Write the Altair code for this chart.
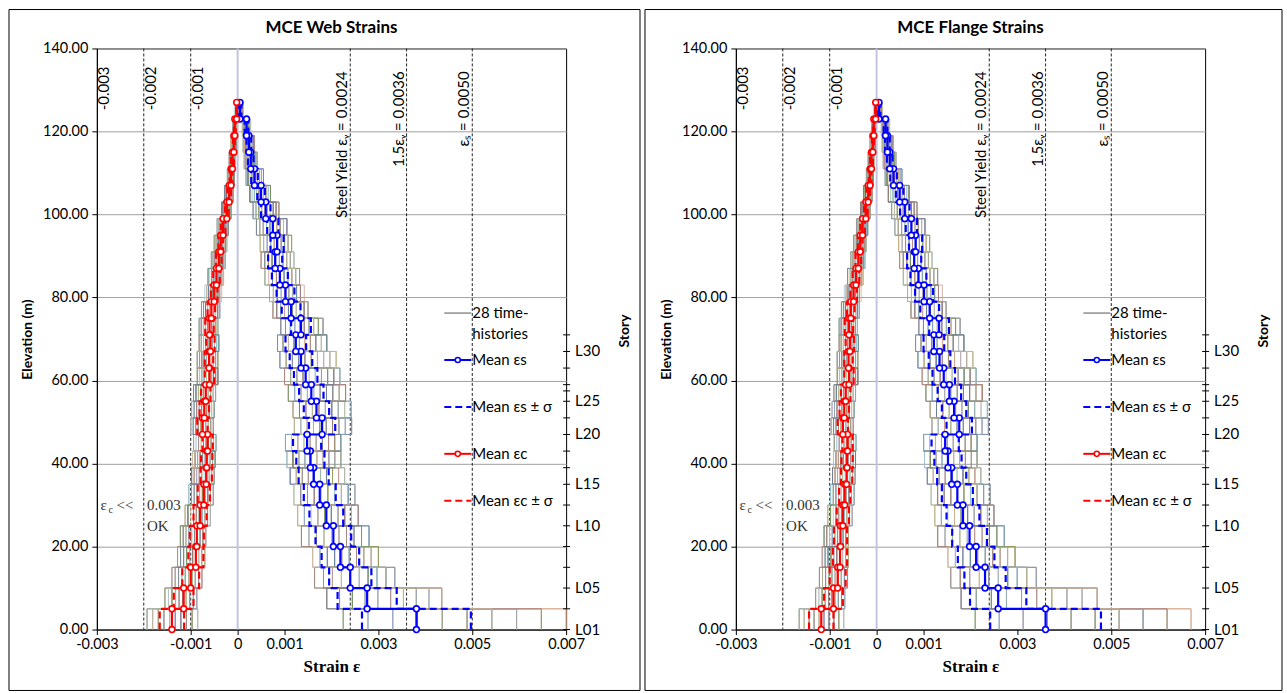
import altair as alt
import pandas as pd

# ---------------- data ----------------
LEVELS = [0, 5, 10, 15, 20, 25, 30, 35, 39, 43, 47, 51, 55, 59, 63, 67, 71,
          75, 79, 83, 87, 91, 95, 99, 103, 107, 111, 115, 119, 123, 127]

# Web wall strains (per element, bottom to top)
WEB_TENS_MEAN = [0.00381, 0.00276, 0.00240, 0.00219, 0.00204, 0.00189, 0.00175, 0.00162, 0.00155, 0.00148,
                 0.00180, 0.00168, 0.00157, 0.00145, 0.00135, 0.00124, 0.00135, 0.00114, 0.00102, 0.00090,
                 0.00080, 0.00084, 0.00075, 0.00060, 0.00050, 0.00036, 0.00028, 0.00024, 0.00019, 0.00005]
WEB_TENS_MINUS_SD = [0.00265, 0.00213, 0.00195, 0.00179, 0.00166, 0.00153, 0.00141, 0.00130, 0.00125, 0.00118,
                     0.00152, 0.00141, 0.00131, 0.00120, 0.00111, 0.00102, 0.00114, 0.00094, 0.00083, 0.00073,
                     0.00065, 0.00070, 0.00063, 0.00050, 0.00042, 0.00029, 0.00022, 0.00019, 0.00015, 0.00002]
WEB_TENS_PLUS_SD = [0.00497, 0.00339, 0.00285, 0.00259, 0.00242, 0.00225, 0.00209, 0.00194, 0.00185, 0.00178,
                    0.00208, 0.00195, 0.00183, 0.00170, 0.00159, 0.00146, 0.00156, 0.00134, 0.00121, 0.00107,
                    0.00095, 0.00098, 0.00087, 0.00070, 0.00058, 0.00043, 0.00034, 0.00029, 0.00023, 0.00008]
WEB_TENS_MIN = [0.00225, 0.00190, 0.00164, 0.00160, 0.00136, 0.00128, 0.00120, 0.00112, 0.00105, 0.00102,
                0.00121, 0.00118, 0.00108, 0.00100, 0.00090, 0.00085, 0.00092, 0.00075, 0.00068, 0.00058,
                0.00050, 0.00048, 0.00040, 0.00033, 0.00026, 0.00018, 0.00014, 0.00012, 0.00010, 0.00000]
WEB_TENS_MAX = [0.00700, 0.00435, 0.00335, 0.00300, 0.00280, 0.00257, 0.00250, 0.00228, 0.00220, 0.00220,
                0.00243, 0.00242, 0.00230, 0.00218, 0.00210, 0.00190, 0.00182, 0.00150, 0.00142, 0.00132,
                0.00120, 0.00115, 0.00105, 0.00088, 0.00070, 0.00055, 0.00042, 0.00036, 0.00028, 0.00012]
WEB_COMP_MEAN = [-0.00140, -0.00115, -0.00100, -0.00089, -0.00087, -0.00080, -0.00072, -0.00067, -0.00066, -0.00064,
                 -0.00075, -0.00071, -0.00068, -0.00060, -0.00061, -0.00058, -0.00060, -0.00056, -0.00050, -0.00045,
                 -0.00040, -0.00036, -0.00031, -0.00023, -0.00018, -0.00014, -0.00011, -0.00008, -0.00006, -0.00002]
WEB_COMP_MINUS_SD = [-0.00166, -0.00136, -0.00118, -0.00105, -0.00102, -0.00094, -0.00085, -0.00079, -0.00078, -0.00075,
                     -0.00086, -0.00081, -0.00078, -0.00070, -0.00070, -0.00067, -0.00069, -0.00064, -0.00057, -0.00052,
                     -0.00046, -0.00041, -0.00036, -0.00027, -0.00022, -0.00017, -0.00014, -0.00010, -0.00008, -0.00003]
WEB_COMP_PLUS_SD = [-0.00114, -0.00094, -0.00082, -0.00073, -0.00072, -0.00066, -0.00059, -0.00055, -0.00054, -0.00053,
                    -0.00064, -0.00061, -0.00058, -0.00050, -0.00052, -0.00049, -0.00051, -0.00048, -0.00043, -0.00038,
                    -0.00034, -0.00031, -0.00026, -0.00019, -0.00014, -0.00011, -0.00008, -0.00006, -0.00004, -0.00001]
WEB_COMP_MIN = [-0.00193, -0.00155, -0.00140, -0.00128, -0.00122, -0.00112, -0.00104, -0.00098, -0.00096, -0.00094,
                -0.00100, -0.00098, -0.00094, -0.00086, -0.00086, -0.00082, -0.00082, -0.00077, -0.00070, -0.00063,
                -0.00056, -0.00050, -0.00044, -0.00034, -0.00028, -0.00022, -0.00018, -0.00014, -0.00010, -0.00005]
WEB_COMP_MAX = [-0.00085, -0.00087, -0.00076, -0.00070, -0.00068, -0.00058, -0.00052, -0.00050, -0.00048, -0.00046,
                -0.00052, -0.00050, -0.00047, -0.00042, -0.00042, -0.00040, -0.00042, -0.00038, -0.00034, -0.00030,
                -0.00026, -0.00023, -0.00020, -0.00014, -0.00010, -0.00007, -0.00005, -0.00003, -0.00002, 0.00000]

# Flange strains
FLG_TENS_MEAN = [0.00360, 0.00259, 0.00231, 0.00212, 0.00198, 0.00184, 0.00172, 0.00160, 0.00152, 0.00146,
                 0.00176, 0.00165, 0.00155, 0.00143, 0.00134, 0.00122, 0.00133, 0.00113, 0.00101, 0.00089,
                 0.00080, 0.00083, 0.00074, 0.00060, 0.00049, 0.00036, 0.00028, 0.00023, 0.00019, 0.00005]
FLG_TENS_MINUS_SD = [0.00242, 0.00199, 0.00187, 0.00173, 0.00161, 0.00149, 0.00139, 0.00129, 0.00123, 0.00117,
                     0.00149, 0.00139, 0.00130, 0.00119, 0.00111, 0.00100, 0.00112, 0.00093, 0.00082, 0.00072,
                     0.00065, 0.00069, 0.00062, 0.00050, 0.00041, 0.00029, 0.00022, 0.00018, 0.00015, 0.00002]
FLG_TENS_PLUS_SD = [0.00478, 0.00319, 0.00275, 0.00251, 0.00235, 0.00219, 0.00205, 0.00191, 0.00181, 0.00175,
                    0.00203, 0.00191, 0.00180, 0.00167, 0.00157, 0.00144, 0.00154, 0.00133, 0.00120, 0.00106,
                    0.00095, 0.00097, 0.00086, 0.00070, 0.00057, 0.00043, 0.00034, 0.00028, 0.00023, 0.00008]
FLG_TENS_MIN = [0.00210, 0.00180, 0.00158, 0.00152, 0.00130, 0.00124, 0.00116, 0.00108, 0.00102, 0.00100,
                0.00118, 0.00114, 0.00105, 0.00097, 0.00088, 0.00083, 0.00090, 0.00073, 0.00066, 0.00057,
                0.00049, 0.00047, 0.00039, 0.00032, 0.00025, 0.00018, 0.00014, 0.00012, 0.00010, 0.00000]
FLG_TENS_MAX = [0.00670, 0.00470, 0.00340, 0.00295, 0.00272, 0.00250, 0.00242, 0.00222, 0.00214, 0.00214,
                0.00238, 0.00236, 0.00225, 0.00212, 0.00205, 0.00186, 0.00178, 0.00148, 0.00140, 0.00130,
                0.00118, 0.00113, 0.00103, 0.00086, 0.00069, 0.00054, 0.00041, 0.00035, 0.00028, 0.00012]
FLG_COMP_MEAN = [-0.00118, -0.00092, -0.00083, -0.00078, -0.00077, -0.00072, -0.00068, -0.00064, -0.00063, -0.00062,
                 -0.00072, -0.00069, -0.00066, -0.00059, -0.00060, -0.00057, -0.00059, -0.00055, -0.00049, -0.00044,
                 -0.00039, -0.00035, -0.00030, -0.00023, -0.00018, -0.00014, -0.00011, -0.00008, -0.00006, -0.00002]
FLG_COMP_MINUS_SD = [-0.00144, -0.00112, -0.00100, -0.00093, -0.00091, -0.00085, -0.00080, -0.00076, -0.00075, -0.00073,
                     -0.00083, -0.00079, -0.00076, -0.00069, -0.00069, -0.00066, -0.00068, -0.00063, -0.00056, -0.00051,
                     -0.00045, -0.00040, -0.00035, -0.00027, -0.00022, -0.00017, -0.00014, -0.00010, -0.00008, -0.00003]
FLG_COMP_PLUS_SD = [-0.00092, -0.00072, -0.00066, -0.00063, -0.00063, -0.00059, -0.00056, -0.00052, -0.00051, -0.00051,
                    -0.00061, -0.00059, -0.00056, -0.00049, -0.00051, -0.00048, -0.00050, -0.00047, -0.00042, -0.00037,
                    -0.00033, -0.00030, -0.00025, -0.00019, -0.00014, -0.00011, -0.00008, -0.00006, -0.00004, -0.00001]
FLG_COMP_MIN = [-0.00165, -0.00130, -0.00122, -0.00116, -0.00112, -0.00104, -0.00098, -0.00094, -0.00092, -0.00090,
                -0.00097, -0.00095, -0.00091, -0.00084, -0.00084, -0.00080, -0.00080, -0.00075, -0.00069, -0.00062,
                -0.00055, -0.00049, -0.00043, -0.00034, -0.00028, -0.00022, -0.00018, -0.00014, -0.00010, -0.00005]
FLG_COMP_MAX = [-0.00070, -0.00068, -0.00062, -0.00060, -0.00060, -0.00052, -0.00048, -0.00046, -0.00045, -0.00044,
                -0.00050, -0.00048, -0.00045, -0.00040, -0.00040, -0.00039, -0.00041, -0.00037, -0.00033, -0.00029,
                -0.00025, -0.00022, -0.00019, -0.00014, -0.00010, -0.00007, -0.00005, -0.00003, -0.00002, 0.00000]

# Where each of the 28 time-histories sits inside the band of all histories (0 = least, 9 = most), per element
HIST_PATTERN = [
    "538271946029183746507364819205", "261947385084726190351938475620",
    "740518293636592018475820937461", "094836275161938405279482756130",
    "417729360805863729143715069248", "826301549757309481626049182375",
    "359084617292481560732674930815", "682153709414073958268391047526",
    "135692840778650234194523819067", "973406128523517869400968273514",
    "408527931669234170587140592863", "561734092830895612741856734092",
    "294861307585167203496293481750", "726395841046720391853507916248",
    "057148623919453826709631205487", "831970564257982640132085473916",
    "645219783002368159475819630274", "318604257973614982054972318650",
    "902753186424806573910367549182", "179386402591572034687248093561",
    "463820519738249167508513762409", "590467321860935718242679015348",
    "237591864087190462356340287951", "784136095215327890649185634720",
    "026984571346071385293752918064", "851609234772904651830428751936",
    "304275168951683904721597406823", "698043712503459276187861523049",
]
HIST_COLORS = ["#7fb3d5", "#b39b7d", "#8b9bb0", "#c8ad6e", "#6f7f80", "#94c29c", "#c98f8f",
               "#5b6b7c", "#a8c8e0", "#d4b07e", "#808080", "#9fb87a", "#b89ac8", "#4f5f6f",
               "#8ecbd9", "#c2a068", "#999999", "#7c9e88", "#d0a090", "#6a88a8", "#b3b38c",
               "#a07c6c", "#88acc4", "#b8b8b8", "#7f9a5a", "#b08080", "#6a7a90", "#c8bc98"]

REF_LINES = [-0.002, -0.001, 0.0024, 0.0036, 0.005]
REF_LABELS_RIGHT = ["-0.003", "-0.002", "-0.001"]
REF_LABELS_RIGHT_X = [-0.003, -0.002, -0.001]
REF_LABELS_LEFT = ["Steel Yield εᵧ = 0.0024", "1.5εᵧ = 0.0036", "εₛ = 0.0050"]
REF_LABELS_LEFT_X = [0.0024, 0.0036, 0.005]

X_TICKS = [-0.003, -0.001, 0, 0.001, 0.003, 0.005, 0.007]
Y_TICKS = [0, 20, 40, 60, 80, 100, 120, 140]

STORY_TICKS = [0, 5, 10, 15, 20, 25, 30, 35, 39, 43, 47, 51, 55, 57.5, 59, 63, 67, 71]
STORY_LABELS = ["L01", "L05", "L10", "L15", "L20", "L25", "L30"]
STORY_LABEL_ELEV = [0, 10, 25, 35, 47, 55, 67]

LEGEND_LABELS = ["28 time-", "histories", "Mean εs", "Mean εs ± σ", "Mean εc", "Mean εc ± σ"]

NOTE_STRAIN = -0.00292
NOTE_LIMIT_STRAIN = -0.00193
NOTE_ELEV = [30, 25]

# ---------------- styling ----------------
FONT = "Lato"
SERIF = "Liberation Serif"
BLUE = "#0000ff"
RED = "#ff0000"
W, H = 470, 582

XS = alt.Scale(domain=[-0.003, 0.007], nice=False, zero=False)
YS = alt.Scale(domain=[0, 140], nice=False, zero=False)
X_AXIS = alt.Axis(values=X_TICKS,
                  labelExpr="datum.value == 0 ? '0' : (datum.value < 0 ? '-' + format(-datum.value, '.3f') : format(datum.value, '.3f'))",
                  title="Strain ε", titleFont=SERIF, titleFontSize=17, titleFontWeight="bold",
                  titleColor="black", titlePadding=8, labelFont=FONT, labelFontSize=14.5, labelColor="black",
                  grid=False, tickColor="black", domainColor="black", tickSize=5, labelPadding=3,
                  labelFlush=False, labelOverlap=False)
Y_AXIS = alt.Axis(values=Y_TICKS, format=".2f", title="Elevation (m)", titleFont=FONT, titleFontSize=14,
                  titleFontWeight="bold", titleColor="black", titlePadding=8, labelFont=FONT, labelFontSize=14.5,
                  labelColor="black", grid=True, gridColor="#a0a0a0", gridWidth=1, tickSize=5,
                  tickColor="black", domainColor="black", labelPadding=4, labelOverlap=False)

ONE = pd.DataFrame({"k": [0]})


def steps(values, series, hist=""):
    rows = []
    for e, v in enumerate(values):
        rows.append(dict(series=series, hist=hist, strain=v, elev=LEVELS[e], order=2 * e))
        rows.append(dict(series=series, hist=hist, strain=v, elev=LEVELS[e + 1], order=2 * e + 1))
    return rows


def histories(vmin, vmax, side, shift):
    rows = []
    n = len(HIST_PATTERN)
    for h in range(n):
        pat = HIST_PATTERN[(h + shift) % n]
        vals = [vmin[e] + (vmax[e] - vmin[e]) * int(pat[e % len(pat)]) / 9.0 for e in range(len(vmin))]
        rows += steps(vals, f"{side}{h:02d}", f"h{h:02d}")
    return rows


def txt(text, x, y, **kw):
    return alt.Chart(ONE).mark_text(text=text, **kw).encode(x=alt.value(x), y=alt.value(y))


def hrule(x1, x2, y, **kw):
    return alt.Chart(ONE).mark_rule(**kw).encode(x=alt.value(x1), x2=alt.value(x2), y=alt.value(y))


def panel(title, box, tm, tlo, thi, tmin, tmax, cm, clo, chi, cmin, cmax):
    X = alt.X("strain:Q", scale=XS, axis=X_AXIS)
    Y = alt.Y("elev:Q", scale=YS, axis=Y_AXIS)
    layers = []

    # panel frame and title
    layers.append(alt.Chart(ONE).mark_rect(fillOpacity=0, stroke="black", strokeWidth=1).encode(
        x=alt.value(box[0]), x2=alt.value(box[1]), y=alt.value(-39), y2=alt.value(643)))
    layers.append(txt(title, W / 2, -20, align="center", baseline="middle", font=FONT, fontSize=17,
                      fontWeight="bold", color="black"))

    layers.append(alt.Chart(pd.DataFrame({"strain": [0.0]})).mark_rule(
        color="#c4c4e2", strokeWidth=2).encode(x=X))
    layers.append(alt.Chart(pd.DataFrame({"strain": REF_LINES})).mark_rule(
        color="#222222", strokeWidth=1, strokeDash=[3, 2]).encode(x=X))

    hist_df = pd.DataFrame(histories(tmin, tmax, "t", 0) + histories(cmin, cmax, "c", 9))
    hist_domain = [f"h{h:02d}" for h in range(len(HIST_PATTERN))]
    layers.append(alt.Chart(hist_df).mark_line(strokeWidth=0.9, opacity=0.9).encode(
        x=X, y=Y, order="order:Q", detail="series:N",
        color=alt.Color("hist:N", scale=alt.Scale(domain=hist_domain, range=HIST_COLORS), legend=None)))

    for lo, hi, col in [(tlo, thi, BLUE), (clo, chi, RED)]:
        df = pd.DataFrame(steps(lo, "lo") + steps(hi, "hi"))
        layers.append(alt.Chart(df).mark_line(color=col, strokeWidth=2.2, strokeDash=[7, 4]).encode(
            x=X, y=Y, order="order:Q", detail="series:N"))
    for m, col in [(tm, BLUE), (cm, RED)]:
        df = pd.DataFrame(steps(m, "mean"))
        layers.append(alt.Chart(df).mark_line(
            color=col, strokeWidth=2.2,
            point=alt.OverlayMarkDef(filled=True, fill="white", stroke=col, strokeWidth=1.6, size=34)
        ).encode(x=X, y=Y, order="order:Q"))

    # reference line labels
    layers.append(alt.Chart(pd.DataFrame({"strain": REF_LABELS_RIGHT_X, "label": REF_LABELS_RIGHT}))
                  .mark_text(angle=270, align="right", baseline="top", dx=4, font=FONT, fontSize=15, color="black")
                  .encode(x=X, y=alt.value(22), text="label:N"))
    layers.append(alt.Chart(pd.DataFrame({"strain": REF_LABELS_LEFT_X, "label": REF_LABELS_LEFT}))
                  .mark_text(angle=270, align="right", baseline="bottom", dx=-1, font=FONT, fontSize=15, color="black")
                  .encode(x=X, y=alt.value(22), text="label:N"))

    # concrete note
    note = pd.DataFrame({"strain": [NOTE_STRAIN], "elev": [NOTE_ELEV[0]]})
    ntxt = dict(font=SERIF, fontSize=15, color="#333333", align="left", baseline="middle")
    layers.append(alt.Chart(note).mark_text(text="ε", **ntxt).encode(x=X, y=Y))
    layers.append(alt.Chart(note).mark_text(text="c", dx=8, dy=5, font=SERIF, fontSize=10, color="#333333",
                                            align="left", baseline="middle").encode(x=X, y=Y))
    layers.append(alt.Chart(note).mark_text(text="<<", dx=16, **ntxt).encode(x=X, y=Y))
    note2 = pd.DataFrame({"strain": [NOTE_LIMIT_STRAIN] * 2, "elev": NOTE_ELEV, "label": ["0.003", "OK"]})
    layers.append(alt.Chart(note2).mark_text(**ntxt).encode(x=X, y=Y, text="label:N"))

    # story axis on the right
    layers.append(alt.Chart(pd.DataFrame({"elev": STORY_TICKS})).mark_rule(color="black", strokeWidth=1).encode(
        y=Y, x=alt.value(W - 3), x2=alt.value(W + 4)))
    layers.append(alt.Chart(pd.DataFrame({"elev": STORY_LABEL_ELEV, "label": STORY_LABELS})).mark_text(
        align="left", baseline="middle", font=FONT, fontSize=15, color="black", dx=0).encode(
        y=Y, x=alt.value(W + 9), text="label:N"))
    layers.append(txt("Story", 529, 283, angle=270, align="center", baseline="middle", font=FONT,
                      fontSize=14, fontWeight="bold", color="black"))

    # legend
    lx1, lx2, tx = 348, 375, 376
    ly = [265, 286, 312, 359, 406, 453]
    lt = dict(align="left", baseline="middle", font=FONT, fontSize=15, color="black")
    layers.append(hrule(lx1, lx2, ly[0], color="#555555", strokeWidth=1))
    layers.append(hrule(lx1, lx2, ly[2], color=BLUE, strokeWidth=2))
    layers.append(hrule(lx1, lx2, ly[3], color=BLUE, strokeWidth=2, strokeDash=[7, 4]))
    layers.append(hrule(lx1, lx2, ly[4], color=RED, strokeWidth=2))
    layers.append(hrule(lx1, lx2, ly[5], color=RED, strokeWidth=2, strokeDash=[7, 4]))
    for yy, col in [(ly[2], BLUE), (ly[4], RED)]:
        layers.append(alt.Chart(ONE).mark_point(shape="circle", filled=True, fill="white", stroke=col,
                                                strokeWidth=1.5, size=26, opacity=1).encode(
            x=alt.value((lx1 + lx2) / 2), y=alt.value(yy)))
    for label, yy in zip(LEGEND_LABELS, ly):
        layers.append(txt(label, tx, yy, **lt))

    return alt.layer(*layers).properties(width=W, height=H)


left = panel("MCE Web Strains", (-88, 544),
             WEB_TENS_MEAN, WEB_TENS_MINUS_SD, WEB_TENS_PLUS_SD, WEB_TENS_MIN, WEB_TENS_MAX,
             WEB_COMP_MEAN, WEB_COMP_MINUS_SD, WEB_COMP_PLUS_SD, WEB_COMP_MIN, WEB_COMP_MAX)
right = panel("MCE Flange Strains", (-91, 547),
              FLG_TENS_MEAN, FLG_TENS_MINUS_SD, FLG_TENS_PLUS_SD, FLG_TENS_MIN, FLG_TENS_MAX,
              FLG_COMP_MEAN, FLG_COMP_MINUS_SD, FLG_COMP_PLUS_SD, FLG_COMP_MIN, FLG_COMP_MAX)

chart = alt.hconcat(left, right, spacing=170, bounds="flush").properties(
    padding={"left": 8, "top": 8, "right": 4, "bottom": 3},
    background="white",
).configure_view(stroke="black", strokeWidth=1)

chart.save("out.html", embed_options={"renderer": "svg", "actions": False})
